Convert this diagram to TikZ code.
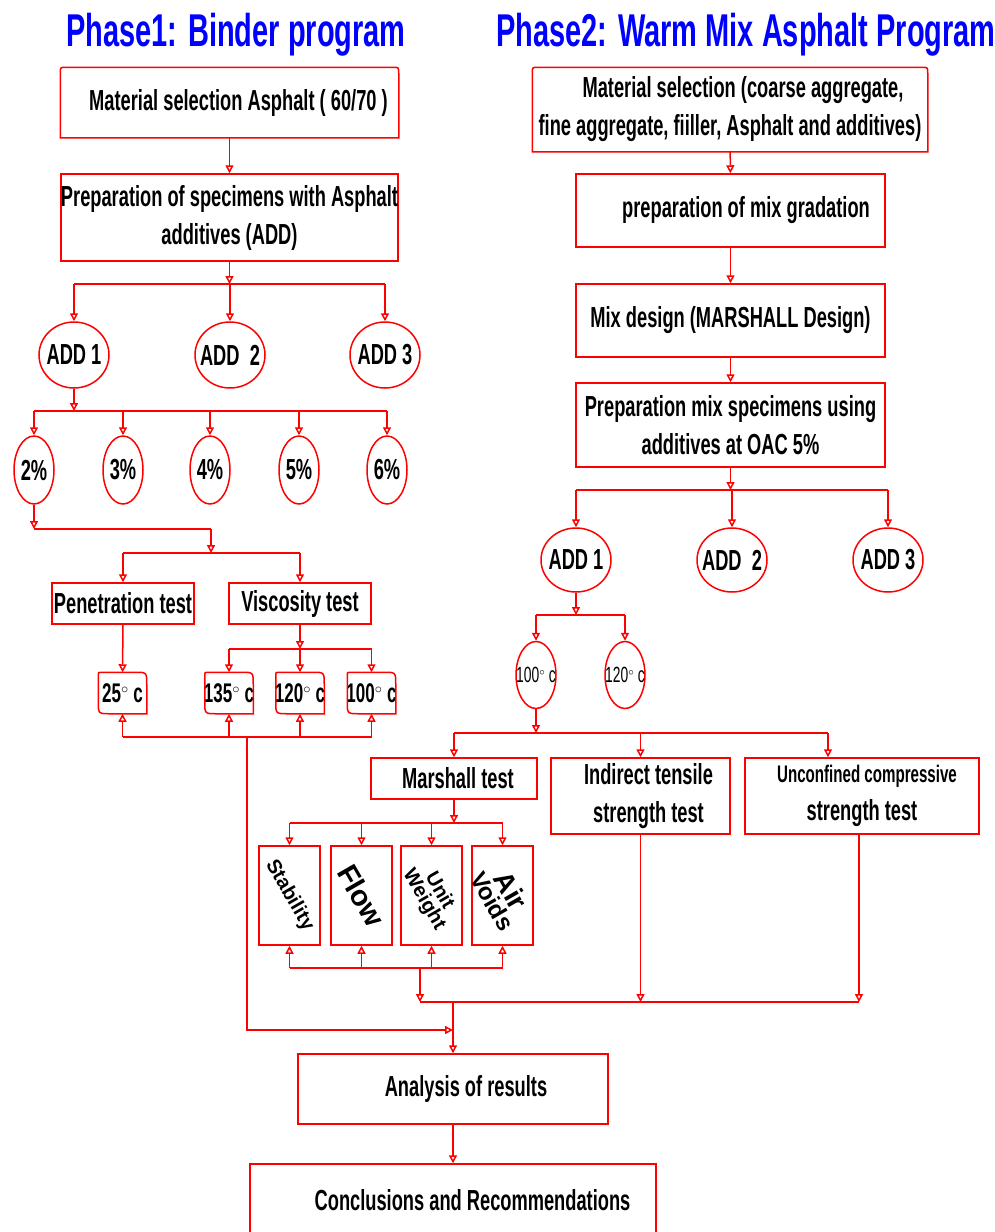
\documentclass[tikz,border=0pt]{standalone}
\usepackage{fontspec}
\setmainfont{Liberation Sans}[FakeStretch=0.63]
\newfontfamily\widefont{Liberation Sans}
\usepackage{tikz}
\usetikzlibrary{arrows.meta}
\usetikzlibrary{shapes.geometric}
\definecolor{flowred}{RGB}{255,0,0}
\definecolor{titleblue}{RGB}{0,0,255}
\newcommand{\boxfont}{\fontsize{29}{38}\selectfont\bfseries}
\newcommand{\tempfont}{\fontsize{27}{30}\selectfont\bfseries}
\newcommand{\ovalfont}{\fontsize{22}{26}\selectfont}
\newcommand{\degc}{$^{\scriptscriptstyle\circ}$\,c}
\newcommand{\inoval}[1]{\makebox[0pt]{#1}}
% box outline with small rounded top corners
\newcommand{\topround}[1]{\draw[boxline] (#1.south west) -- ([yshift=-6pt]#1.north west)
  .. controls (#1.north west) .. ([xshift=6pt]#1.north west) -- ([xshift=-6pt]#1.north east)
  .. controls (#1.north east) .. ([yshift=-6pt]#1.north east) -- (#1.south east) -- cycle;}
% temperature card outline
\newcommand{\tempround}[1]{\draw[boxline] (#1.south east) -- ([xshift=12pt]#1.south west)
  .. controls (#1.south west) .. ([yshift=12pt]#1.south west) -- ([yshift=-3pt]#1.north west)
  .. controls (#1.north west) .. ([xshift=3pt]#1.north west) -- ([xshift=-12pt]#1.north east)
  .. controls (#1.north east) .. ([yshift=-12pt]#1.north east) -- cycle;}
\tikzset{boxline/.style = {draw=flowred, line width=1.5pt},
         box/.style = {boxline, rectangle, inner sep=0pt, align=center, font=\boxfont},
         oval/.style = {boxline, ellipse, inner sep=0pt, font=\boxfont},
         flow/.style = {boxline, -{Triangle[open, length=8pt, width=8pt]}},
         link/.style = {boxline}}

\begin{document}
\begin{tikzpicture}[x=1pt, y=-1pt]
    \useasboundingbox (0,0) rectangle (995,1232);
    \node (title1) at (236, 46) [anchor=base, text=titleblue, font=\fontsize{46}{50}\selectfont\bfseries] {Phase1: Binder program};
    \node (title2) at (746, 46) [anchor=base, text=titleblue, font=\fontsize{46}{50}\selectfont\bfseries] {Phase2: Warm Mix Asphalt Program};

    % phase 1
    \node (mat1) at (229.5, 102.5) [box, draw=none, minimum width=337, minimum height=69] {\hspace*{18pt}Material selection Asphalt ( 60/70 )};
    \topround{mat1}
    \node (prep1) at (229.5, 217.5) [box, minimum width=337, minimum height=87] {Preparation of specimens with Asphalt\\additives (ADD)};
    \node (add1) at (74, 355) [oval, minimum width=70, minimum height=66] {\inoval{ADD 1}};
    \node (add2) at (230, 355) [oval, minimum width=70, minimum height=66] {\inoval{ADD\ \ 2}};
    \node (add3) at (385, 355) [oval, minimum width=70, minimum height=66] {\inoval{ADD 3}};
    \node (p2) at (34, 470) [oval, minimum width=40, minimum height=68] {\inoval{2\%}};
    \node (p3) at (123, 470) [oval, minimum width=40, minimum height=68] {\inoval{3\%}};
    \node (p4) at (210, 470) [oval, minimum width=40, minimum height=68] {\inoval{4\%}};
    \node (p5) at (299, 470) [oval, minimum width=40, minimum height=68] {\inoval{5\%}};
    \node (p6) at (387, 470) [oval, minimum width=40, minimum height=68] {\inoval{6\%}};
    \node (pen) at (123, 603.5) [box, minimum width=142, minimum height=41] {Penetration test};
    \node (visc) at (300, 603.5) [box, minimum width=142, minimum height=41] {Viscosity test};
    \node (t25) at (122.5, 693) [box, draw=none, font=\tempfont, minimum width=47, minimum height=40] {\inoval{25\degc}};
    \node (t135) at (229, 693) [box, draw=none, font=\tempfont, minimum width=47, minimum height=40] {\inoval{135\degc}};
    \node (t120) at (300, 693) [box, draw=none, font=\tempfont, minimum width=47, minimum height=40] {\inoval{120\degc}};
    \node (t100) at (371.5, 693) [box, draw=none, font=\tempfont, minimum width=47, minimum height=40] {\inoval{100\degc}};
    \tempround{t25}
    \tempround{t135}
    \tempround{t120}
    \tempround{t100}

    % phase 2
    \node (matR) at (730, 109.5) [box, draw=none, minimum width=394, minimum height=83] {\hspace*{26pt}Material selection (coarse aggregate,\\fine aggregate, fiiller, Asphalt and additives)};
    \topround{matR}
    \node (gradR) at (730.5, 210.5) [box, minimum width=309, minimum height=73] {\hspace*{31pt}preparation of mix gradation};
    \node (designR) at (730.5, 320.5) [box, minimum width=309, minimum height=73] {Mix design (MARSHALL Design)};
    \node (specR) at (730.5, 425) [box, minimum width=309, minimum height=84] {Preparation mix specimens using\\additives at OAC 5\%};
    \node (addR1) at (576, 560) [oval, minimum width=70, minimum height=64] {\inoval{ADD 1}};
    \node (addR2) at (732, 560) [oval, minimum width=70, minimum height=64] {\inoval{ADD\ \ 2}};
    \node (addR3) at (888, 560) [oval, minimum width=70, minimum height=64] {\inoval{ADD 3}};
    \node (c100) at (536, 675) [oval, font=\ovalfont, minimum width=40, minimum height=67] {\inoval{100\degc}};
    \node (c120) at (625, 675) [oval, font=\ovalfont, minimum width=40, minimum height=67] {\inoval{120\degc}};
    \node (marsh) at (454, 778.5) [box, minimum width=166, minimum height=41] {\hspace*{8pt}Marshall test};
    \node (indir) at (640.5, 796) [box, minimum width=179, minimum height=76] {\hspace*{16pt}Indirect tensile\\\hspace*{16pt}strength test};
    \node (uncon) at (862, 796) [box, minimum width=234, minimum height=76] {{\fontsize{24}{30}\selectfont\hspace*{10pt}Unconfined compressive}\\strength test};
    \node (stab) at (289.5, 895.5) [box, minimum width=61, minimum height=99] {\inoval{\rotatebox{-60}{\widefont\bfseries\fontsize{20}{22}\selectfont Stability}}};
    \node (flow) at (361.5, 895.5) [box, minimum width=61, minimum height=99] {\inoval{\rotatebox{-60}{\widefont\bfseries\fontsize{29}{30}\selectfont Flow}}};
    \node (unit) at (431.5, 895.5) [box, minimum width=61, minimum height=99] {\inoval{\rotatebox{-60}{\widefont\fontsize{20}{21}\selectfont\shortstack{Unit\\Weight}}}};
    \node (air) at (502.5, 895.5) [box, minimum width=61, minimum height=99] {\inoval{\rotatebox{-60}{\widefont\bfseries\fontsize{24}{24}\selectfont\shortstack{{\fontsize{28}{28}\selectfont Air}\\Voids}}}};
    \node (analysis) at (453, 1089) [box, minimum width=310, minimum height=70] {\hspace*{26pt}Analysis of results};
    \node (concl) at (453, 1200) [box, minimum width=406, minimum height=72] {\hspace*{39pt}Conclusions and Recommendations};

    % phase 1 connectors
    \coordinate (j1) at (229.5, 284);
    \coordinate (j2) at (74, 411);
    \coordinate (j3) at (34, 529);
    \coordinate (j4) at (211, 553);
    \coordinate (j5) at (300, 649);
    \coordinate (j6) at (247, 737);
    \draw [flow] (mat1) -- (prep1);
    \draw [flow] (prep1) -- (j1);
    \draw [link] (add1 |- j1) -- (add3 |- j1);
    \draw [flow] (add1 |- j1) -- (add1);
    \draw [flow] (add2 |- j1) -- (add2);
    \draw [flow] (add3 |- j1) -- (add3);
    \draw [flow] (add1) -- (j2);
    \draw [link] (p2 |- j2) -- (p6 |- j2);
    \draw [flow] (p2 |- j2) -- (p2);
    \draw [flow] (p3 |- j2) -- (p3);
    \draw [flow] (p4 |- j2) -- (p4);
    \draw [flow] (p5 |- j2) -- (p5);
    \draw [flow] (p6 |- j2) -- (p6);
    \draw [flow] (p2) -- (j3);
    \draw [link] (j3) -- (j4 |- j3);
    \draw [flow] (j4 |- j3) -- (j4);
    \draw [link] (pen |- j4) -- (visc |- j4);
    \draw [flow] (pen |- j4) -- (pen);
    \draw [flow] (visc |- j4) -- (visc);
    \draw [flow] (pen) -- (t25);
    \draw [flow] (visc) -- (j5);
    \draw [link] (t135 |- j5) -- (t100 |- j5);
    \draw [flow] (t135 |- j5) -- (t135);
    \draw [flow] (t120 |- j5) -- (t120);
    \draw [flow] (t100 |- j5) -- (t100);
    \draw [link] (t25 |- j6) -- (t100 |- j6);
    \draw [flow] (t25 |- j6) -- (t25);
    \draw [flow] (t135 |- j6) -- (t135);
    \draw [flow] (t120 |- j6) -- (t120);
    \draw [flow] (t100 |- j6) -- (t100);

    % phase 2 connectors
    \coordinate (j7) at (730.5, 490);
    \coordinate (j8) at (576, 615);
    \coordinate (j9) at (536, 733);
    \coordinate (j9e) at (828, 733);
    \coordinate (j10) at (454, 823);
    \coordinate (j11) at (420, 968);
    \coordinate (j12) at (453, 1030);
    \coordinate (j13) at (420, 1002);
    \coordinate (j14) at (859, 1002);
    \draw [flow] (matR) -- (gradR);
    \draw [flow] (gradR) -- (designR);
    \draw [flow] (designR) -- (specR);
    \draw [flow] (specR) -- (j7);
    \draw [link] (addR1 |- j7) -- (addR3 |- j7);
    \draw [flow] (addR1 |- j7) -- (addR1);
    \draw [flow] (addR2 |- j7) -- (addR2);
    \draw [flow] (addR3 |- j7) -- (addR3);
    \draw [flow] (addR1) -- (j8);
    \draw [link] (c100 |- j8) -- (c120 |- j8);
    \draw [flow] (c100 |- j8) -- (c100);
    \draw [flow] (c120 |- j8) -- (c120);
    \draw [flow] (c100) -- (j9);
    \draw [link] (marsh |- j9) -- (j9e);
    \draw [flow] (marsh |- j9) -- (marsh);
    \draw [flow] (indir |- j9) -- (indir);
    \draw [flow] (j9e) -- (j9e |- uncon.north);
    \draw [flow] (marsh) -- (j10);
    \draw [link] (stab |- j10) -- (air |- j10);
    \draw [flow] (stab |- j10) -- (stab);
    \draw [flow] (flow |- j10) -- (flow);
    \draw [flow] (unit |- j10) -- (unit);
    \draw [flow] (air |- j10) -- (air);
    \draw [link] (stab |- j11) -- (air |- j11);
    \draw [flow] (stab |- j11) -- (stab);
    \draw [flow] (flow |- j11) -- (flow);
    \draw [flow] (unit |- j11) -- (unit);
    \draw [flow] (air |- j11) -- (air);
    \draw [flow] (j11) -- (j13);
    \draw [link] (j13) -- (j14);
    \draw [flow] (indir) -- (indir |- j13);
    \draw [flow] (uncon.south -| j14) -- (j14);
    \draw [flow] (j6) |- (j12);
    \draw [flow] (analysis |- j13) -- (analysis);
    \draw [flow] (analysis) -- (concl);
\end{tikzpicture}
\end{document}
